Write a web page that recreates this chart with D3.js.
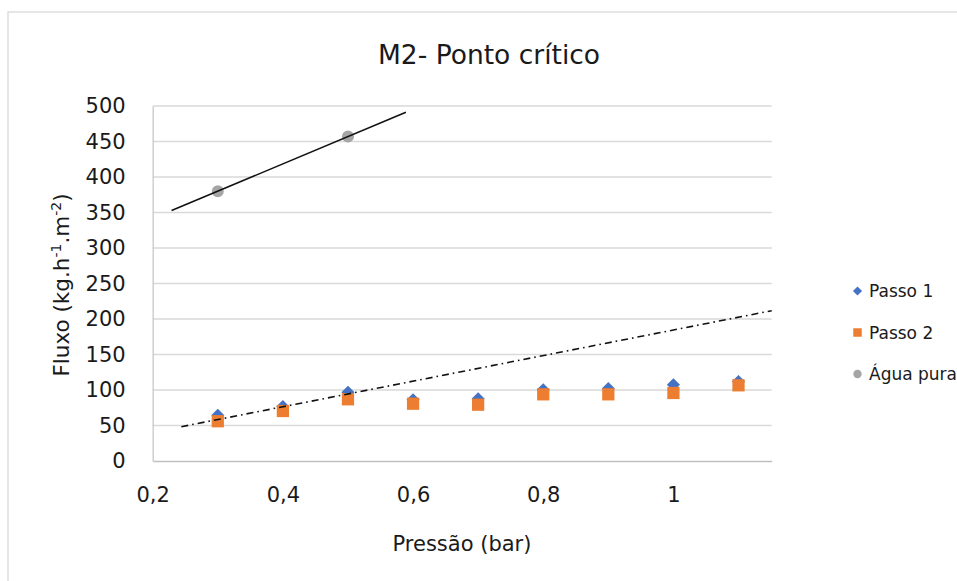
<!DOCTYPE html>
<html>
<head>
<meta charset="utf-8">
<script src="https://cdn.jsdelivr.net/npm/d3@7"></script>
<style>
  html, body { margin: 0; padding: 0; background: #fff; }
  svg { display: block; font-family: "DejaVu Sans", sans-serif; }
</style>
</head>
<body>
<svg id="chart" width="957" height="581"></svg>
<script>
// Pressure steps (bar)
const pressure = [0.3, 0.4, 0.5, 0.6, 0.7, 0.8, 0.9, 1.0, 1.1];
// Permeate flux (kg.h-1.m-2)
const passo1 = [64.4, 76.8, 96.9, 86.2, 87.6, 100.3, 102.1, 107.3, 112.0];
const passo2 = [56.0, 70.4, 86.9, 80.7, 79.3, 93.9, 93.9, 95.8, 106.6];
// Pure water flux
const aguaPressure = [0.3, 0.5];
const aguaFlux = [380, 457];
// Extent of the pure-water linear trend
const aguaTrendX = [0.229, 0.589];
// Critical-flux reference line (dash-dot)
const critX = [0.244, 1.151];
const critY = [48.3, 211.7];

const xTicks = [0.2, 0.4, 0.6, 0.8, 1.0];
const yTicks = [0, 50, 100, 150, 200, 250, 300, 350, 400, 450, 500];
const seriesNames = ["Passo 1", "Passo 2", "Água pura"];
const colors = { p1: "#4472c4", p2: "#ed7d31", agua: "#a5a5a5" };
const ink = "#1a1a1a";

const svg = d3.select("#chart");
const plot = { left: 152.7, right: 771.7, top: 106, bottom: 461 };

const x = d3.scaleLinear().domain([0.2, 1.151]).range([plot.left, plot.right]);
const y = d3.scaleLinear().domain([0, 500]).range([plot.bottom, plot.top]);

// chart area border
svg.append("rect")
  .attr("x", 8).attr("y", 12).attr("width", 1000).attr("height", 1000)
  .attr("fill", "#fff").attr("stroke", "#d9d9d9").attr("stroke-width", 1.3);

// title
svg.append("text")
  .attr("x", 489).attr("y", 64)
  .attr("text-anchor", "middle")
  .attr("font-size", 26.5).attr("fill", ink)
  .text("M2- Ponto crítico");

// gridlines
svg.append("g").selectAll("line")
  .data(yTicks.filter(d => d > 0))
  .join("line")
  .attr("x1", plot.left).attr("x2", plot.right)
  .attr("y1", d => y(d)).attr("y2", d => y(d))
  .attr("stroke", "#d9d9d9").attr("stroke-width", 1.3);

// axes
const yAxis = d3.axisLeft(y).tickValues(yTicks).tickSize(0).tickPadding(27)
  .tickFormat(d3.format("d"));
const gy = svg.append("g").attr("transform", `translate(${plot.left},0)`).call(yAxis);
gy.select(".domain").attr("stroke", "#c8c8c8").attr("stroke-width", 1.3);
gy.selectAll("text").attr("font-size", 21).attr("fill", ink)
  .attr("font-family", "DejaVu Sans, sans-serif");

const xAxis = d3.axisBottom(x).tickValues(xTicks).tickSize(0).tickPadding(26)
  .tickFormat(d => d3.format("~g")(d).replace(".", ","));
const gx = svg.append("g").attr("transform", `translate(0,${plot.bottom})`).call(xAxis);
gx.select(".domain").attr("stroke", "#c0c0c0").attr("stroke-width", 1.5);
gx.selectAll("text").attr("font-size", 21).attr("fill", ink)
  .attr("font-family", "DejaVu Sans, sans-serif");

// axis titles
svg.append("text")
  .attr("x", 462).attr("y", 551)
  .attr("text-anchor", "middle")
  .attr("font-size", 21).attr("fill", ink)
  .text("Pressão (bar)");

const yTitle = svg.append("text")
  .attr("transform", "translate(69,285) rotate(-90)")
  .attr("text-anchor", "middle")
  .attr("font-size", 21.5).attr("fill", ink);
yTitle.append("tspan").text("Fluxo (kg.h");
yTitle.append("tspan").attr("baseline-shift", "super").attr("font-size", 14).text("-1");
yTitle.append("tspan").text(".m");
yTitle.append("tspan").attr("baseline-shift", "super").attr("font-size", 14).text("-2");
yTitle.append("tspan").text(")");

// markers
const diamond = d3.symbol().type(d3.symbolSquare).size(86);
const square = d3.symbol().type(d3.symbolSquare).size(150);
const circle = d3.symbol().type(d3.symbolCircle).size(113);

svg.append("g").selectAll("path")
  .data(pressure.map((p, i) => [p, passo1[i]]))
  .join("path")
  .attr("d", diamond)
  .attr("transform", d => `translate(${x(d[0])},${y(d[1])}) rotate(45)`)
  .attr("fill", colors.p1);

svg.append("g").selectAll("path")
  .data(pressure.map((p, i) => [p, passo2[i]]))
  .join("path")
  .attr("d", square)
  .attr("transform", d => `translate(${x(d[0])},${y(d[1])})`)
  .attr("fill", colors.p2);

svg.append("g").selectAll("path")
  .data(aguaPressure.map((p, i) => [p, aguaFlux[i]]))
  .join("path")
  .attr("d", circle)
  .attr("transform", d => `translate(${x(d[0])},${y(d[1])})`)
  .attr("fill", colors.agua);

// pure water linear trend (least squares through the measured points)
const mx = d3.mean(aguaPressure), my = d3.mean(aguaFlux);
const slope = d3.sum(aguaPressure.map((p, i) => (p - mx) * (aguaFlux[i] - my))) /
              d3.sum(aguaPressure.map(p => (p - mx) ** 2));
const intercept = my - slope * mx;
const line = d3.line().x(d => x(d[0])).y(d => y(d[1]));

svg.append("path")
  .datum(aguaTrendX.map(p => [p, intercept + slope * p]))
  .attr("d", line)
  .attr("fill", "none").attr("stroke", "#111").attr("stroke-width", 1.6);

// critical flux line
svg.append("path")
  .datum(critX.map((p, i) => [p, critY[i]]))
  .attr("d", line)
  .attr("fill", "none").attr("stroke", "#111").attr("stroke-width", 1.6)
  .attr("stroke-dasharray", "7,4,1.6,4");

// legend
const legend = svg.append("g");
const legendItems = [
  { name: seriesNames[0], sym: d3.symbol().type(d3.symbolSquare).size(42), rot: 45, color: colors.p1 },
  { name: seriesNames[1], sym: d3.symbol().type(d3.symbolSquare).size(72), rot: 0, color: colors.p2 },
  { name: seriesNames[2], sym: d3.symbol().type(d3.symbolCircle).size(55), rot: 0, color: colors.agua }
];
legendItems.forEach((it, i) => {
  const cy = 291 + i * 41.5;
  legend.append("path").attr("d", it.sym)
    .attr("transform", `translate(857.5,${cy}) rotate(${it.rot})`)
    .attr("fill", it.color);
  legend.append("text").attr("x", 869).attr("y", cy + 6)
    .attr("font-size", 17).attr("fill", ink)
    .text(it.name);
});
</script>
</body>
</html>
